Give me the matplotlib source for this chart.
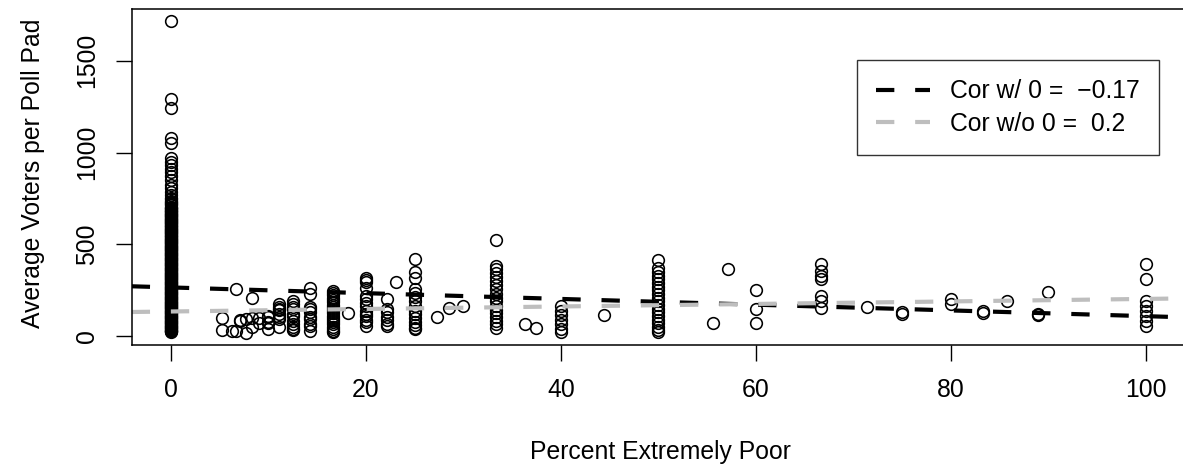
import numpy as np
import matplotlib
matplotlib.use("Agg")
import matplotlib.pyplot as plt

plt.rcParams['font.family'] = ['Liberation Sans', 'DejaVu Sans']

# %% data: percent extremely poor -> avg voters per poll pad
# x = 0 column (very dense, reads as a solid bar below ~700)
pct_zero_voters = [1714, 1294, 1245, 1082, 1054, 972, 948, 930, 912, 893, 870, 848, 826,
                   806, 786, 768, 752, 738, 724, 712, 700, 692, 684, 676, 668, 660, 652,
                   645, 637, 629, 621, 614, 606, 598, 590, 583, 575, 567, 560, 552, 544,
                   536, 529, 521, 513, 506, 498, 490, 482, 475, 467, 459, 452, 444, 436,
                   428, 421, 413, 405, 398, 390, 382, 374, 367, 359, 351, 344, 336, 328,
                   320, 313, 305, 297, 290, 282, 274, 266, 259, 251, 243, 236, 228, 220,
                   212, 205, 197, 189, 182, 174, 166, 158, 151, 143, 135, 128, 120, 112,
                   104, 97, 89, 81, 74, 66, 58, 50, 43, 35, 28, 24,
                   745, 731, 718, 706, 696, 688, 680, 672, 664, 656, 648, 641, 633, 625,
                   617, 610, 602, 594, 586, 579, 571, 563, 556, 548, 540, 532, 525, 517,
                   509, 502, 494, 486, 478, 471, 463, 455, 448, 440, 432, 424, 417, 409,
                   401, 394, 386, 378, 370, 363, 355, 347, 340, 332, 324, 316, 309, 301,
                   293, 286, 278, 270, 262, 255, 247, 239, 232, 224, 216, 208, 201, 193,
                   185, 178, 170, 162, 154, 147, 139, 131, 124, 116, 108, 100, 93, 85,
                   77, 70, 62, 54, 46, 39, 31, 26]

columns = {
    5.26: [98, 34],
    6.25: [29],
    6.67: [255, 30],
    7.14: [87, 83],
    7.69: [20, 92],
    8.33: [206, 98, 49],
    9.09: [100, 70],
    10.0: [110, 103, 76, 70, 38],
    11.11: [174, 160, 147, 141, 120, 103, 92, 49],
    12.5: [192, 174, 158, 147, 120, 109, 82, 65, 49, 38, 33],
    14.29: [265, 228, 158, 147, 130, 103, 92, 65, 56, 29],
    16.67: [246, 235, 222, 210, 198, 185, 172, 160, 148, 136, 124, 112, 100, 88, 76,
            64, 52, 40, 30, 22],
    18.18: [127],
    20.0: [319, 306, 293, 260, 219, 200, 180, 165, 140, 120, 110, 90, 75, 56],
    22.22: [201, 150, 130, 103, 90, 65, 56],
    23.08: [296],
    25.0: [418, 352, 319, 255, 235, 212, 190, 165, 140, 120, 100, 80, 60, 45, 38],
    27.27: [103],
    28.57: [152],
    30.0: [166],
    33.33: [525, 382, 365, 345, 320, 300, 280, 255, 230, 210, 190, 165, 145, 125, 105,
            85, 65, 45],
    36.36: [65],
    37.5: [45],
    40.0: [165, 140, 115, 90, 65, 40, 22],
    44.44: [116],
    50.0: [415, 373, 350, 330, 310, 290, 270, 250, 230, 210, 190, 170, 150, 130, 110,
           90, 70, 50, 35, 22],
    55.56: [74],
    57.14: [364],
    60.0: [250, 147, 71],
    66.67: [391, 355, 328, 310, 219, 192, 156],
    71.43: [161],
    75.0: [132, 120],
    80.0: [201, 174],
    83.33: [138, 125],
    85.71: [192],
    88.89: [123, 118],
    90.0: [241],
    100.0: [391, 310, 192, 165, 138, 110, 83, 56],
}

# regression lines (intercept, slope)
fit_with_zero = (265.7, -1.565)
fit_without_zero = (134.7, 0.685)
legend_labels = ["Cor w/ 0 =  \u22120.17", "Cor w/o 0 =  0.2"]

# %%
x = [0.0] * len(pct_zero_voters)
y = list(pct_zero_voters)
for k, vals in columns.items():
    x += [k] * len(vals)
    y += vals
x = np.array(x)
y = np.array(y)

fig = plt.figure(figsize=(11.83, 4.73), dpi=100)
ax = fig.add_axes([131.7 / 1183, 1 - 345 / 473, (1185 - 131.7) / 1183, (345 - 9) / 473])

ax.plot(x, y, linestyle='none', marker='o', markersize=8.4, markerfacecolor='none',
        markeredgecolor='black', markeredgewidth=1.15)

dash = (0, (4.4, 5.0))
ax.axline((0, fit_with_zero[0]), slope=fit_with_zero[1], color='black', lw=3,
          linestyle=dash, label=legend_labels[0])
ax.axline((0, fit_without_zero[0]), slope=fit_without_zero[1], color='#BEBEBE', lw=3,
          linestyle=dash, label=legend_labels[1])

xpad = 0.04 * (x.max() - x.min())
ypad = 0.04 * (y.max() - y.min())
ax.set_xlim(x.min() - xpad, x.max() + xpad)
ax.set_ylim(y.min() - ypad, y.max() + ypad)

fs = 17.8
ax.set_xticks([0, 20, 40, 60, 80, 100])
ax.set_yticks([0, 500, 1000, 1500])
ax.set_yticklabels(['0', '500', '1000', '1500'], rotation=90, va='center')
ax.tick_params(axis='both', direction='out', length=11.5, width=1, labelsize=fs, pad=12)
for s in ax.spines.values():
    s.set_linewidth(1.1)

fig.text(660 / 1183, 1 - 452 / 473, 'Percent Extremely Poor', ha='center', va='center', fontsize=fs)
fig.text(33 / 1183, 1 - 173 / 473, 'Average Voters per Poll Pad', ha='center', va='center',
         rotation=90, fontsize=fs)

leg = ax.legend(loc='upper right', bbox_to_anchor=(1159 / 1183, 1 - 60 / 473),
                bbox_transform=fig.transFigure, fontsize=fs, frameon=True, fancybox=False,
                handlelength=2.2, handletextpad=0.8, borderpad=0.78, labelspacing=0.35,
                borderaxespad=0)
leg.get_frame().set_edgecolor('black')
leg.get_frame().set_linewidth(1.0)

fig.savefig('out.png', dpi=100)
